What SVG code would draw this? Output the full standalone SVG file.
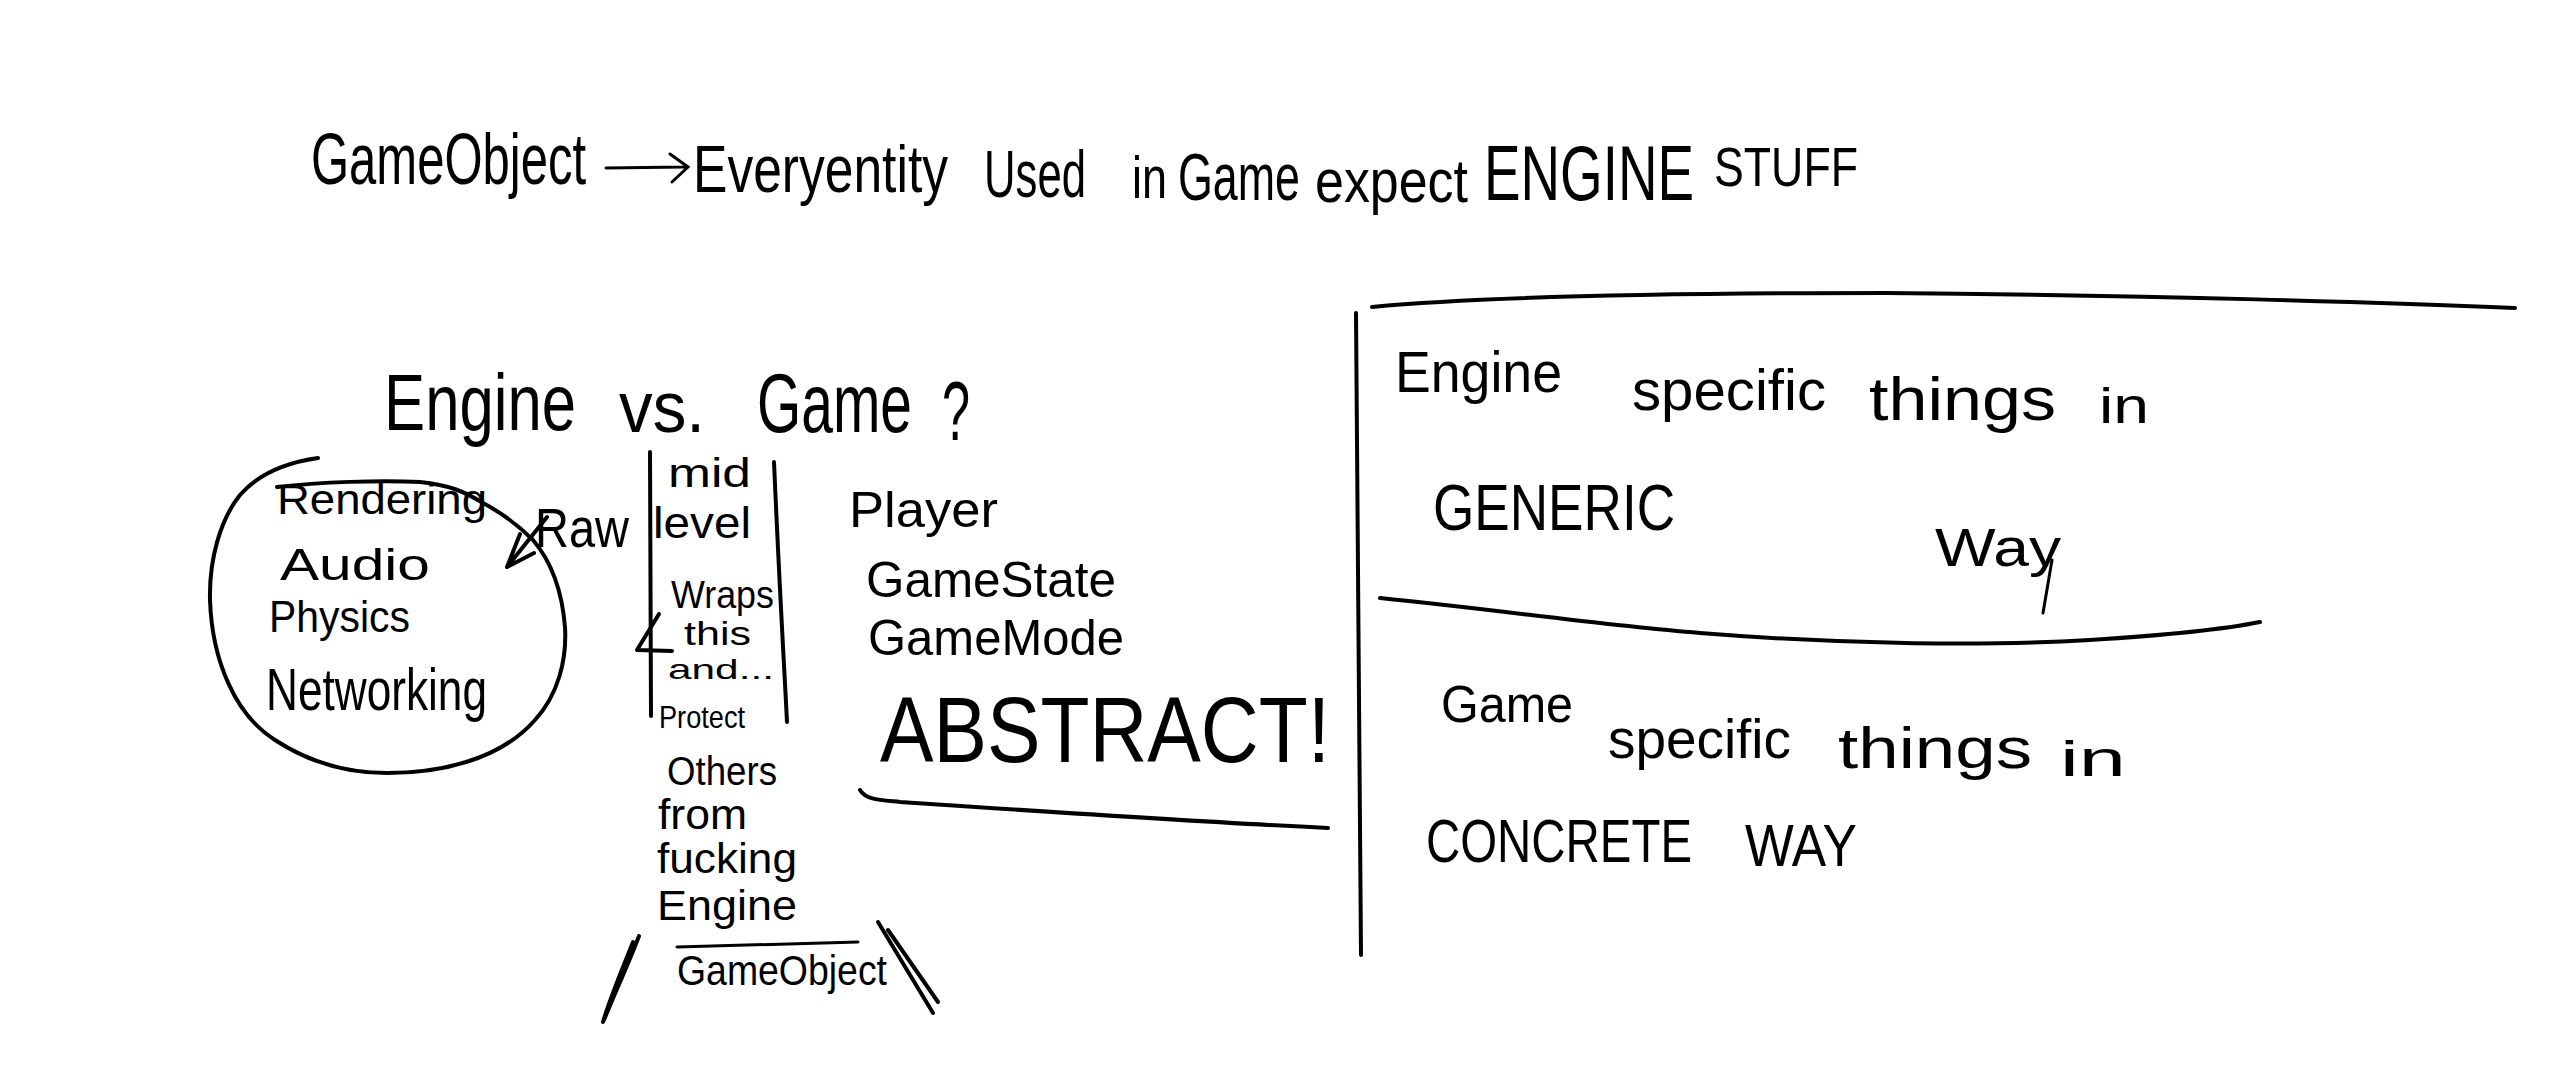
<svg xmlns="http://www.w3.org/2000/svg" width="2560" height="1080" viewBox="0 0 2560 1080">
<style>
text{font-family:"Liberation Sans","DejaVu Sans",sans-serif;fill:#000;}
.s{fill:none;stroke:#000;stroke-width:4;stroke-linecap:round;stroke-linejoin:round;}
.t{fill:none;stroke:#000;stroke-width:3;stroke-linecap:round;}
</style>
<rect width="2560" height="1080" fill="#fff"/>
<g id="title">
<text x="311" y="184" font-size="72" textLength="275" lengthAdjust="spacingAndGlyphs">GameObject</text>
<path class="t" d="M606,168 L684,167 M670,154 L688,167 L672,182"/>
<text x="693" y="192" font-size="66" textLength="255" lengthAdjust="spacingAndGlyphs">Everyentity</text>
<text x="984" y="197" font-size="66" textLength="102" lengthAdjust="spacingAndGlyphs">Used</text>
<text x="1132" y="198" font-size="60" textLength="35" lengthAdjust="spacingAndGlyphs">in</text>
<text x="1178" y="200" font-size="66" textLength="122" lengthAdjust="spacingAndGlyphs">Game</text>
<text x="1315" y="202" font-size="62" textLength="153" lengthAdjust="spacingAndGlyphs">expect</text>
<text x="1484" y="200" font-size="78" textLength="210" lengthAdjust="spacingAndGlyphs">ENGINE</text>
<text x="1714" y="186" font-size="56" textLength="144" lengthAdjust="spacingAndGlyphs">STUFF</text>
</g>
<g id="heading">
<text x="384" y="430" font-size="80" textLength="192" lengthAdjust="spacingAndGlyphs">Engine</text>
<text x="619" y="432" font-size="72" textLength="86" lengthAdjust="spacingAndGlyphs">vs.</text>
<text x="757" y="432" font-size="84" textLength="155" lengthAdjust="spacingAndGlyphs">Game</text>
<text x="942" y="440" font-size="84" textLength="28" lengthAdjust="spacingAndGlyphs">?</text>
</g>
<g id="engine-circle">
<path class="s" d="M318,458 C290,462 260,472 240,495 C220,520 209,560 210,600 C212,660 235,715 275,740 C310,763 350,773 387,773 C440,773 500,760 535,720 C558,695 567,660 565,627 C562,590 550,560 533,540 C515,522 500,512 483,503 C465,492 450,485 420,482 C380,480 320,482 277,487"/>
<text x="277" y="514" font-size="42" textLength="210" lengthAdjust="spacingAndGlyphs">Rendering</text>
<text x="280" y="580" font-size="44" textLength="150" lengthAdjust="spacingAndGlyphs">Audio</text>
<text x="269" y="632" font-size="44" textLength="141" lengthAdjust="spacingAndGlyphs">Physics</text>
<text x="266" y="710" font-size="60" textLength="221" lengthAdjust="spacingAndGlyphs">Networking</text>
</g>
<g id="raw">
<text x="535" y="547" font-size="56" textLength="94" lengthAdjust="spacingAndGlyphs">Raw</text>
</g>
<g id="mid-level">
<path class="s" d="M650,452 L651,716"/>
<path class="s" d="M774,462 C780,600 785,680 787,722"/>
<text x="668" y="487" font-size="40" textLength="83" lengthAdjust="spacingAndGlyphs">mid</text>
<text x="653" y="538" font-size="44" textLength="98" lengthAdjust="spacingAndGlyphs">level</text>
<text x="671" y="608" font-size="38" textLength="103" lengthAdjust="spacingAndGlyphs">Wraps</text>
<text x="684" y="645" font-size="34" textLength="67" lengthAdjust="spacingAndGlyphs">this</text>
<text x="668" y="679" font-size="28" textLength="106" lengthAdjust="spacingAndGlyphs">and...</text>
<text x="659" y="728" font-size="32" textLength="86" lengthAdjust="spacingAndGlyphs">Protect</text>
<text x="667" y="785" font-size="40" textLength="110" lengthAdjust="spacingAndGlyphs">Others</text>
<text x="658" y="829" font-size="42" textLength="89" lengthAdjust="spacingAndGlyphs">from</text>
<text x="657" y="873" font-size="42" textLength="140" lengthAdjust="spacingAndGlyphs">fucking</text>
<text x="657" y="920" font-size="42" textLength="140" lengthAdjust="spacingAndGlyphs">Engine</text>
<path class="t" d="M677,947 L858,942"/>
<text x="677" y="985" font-size="42" textLength="210" lengthAdjust="spacingAndGlyphs">GameObject</text>
<path class="s" d="M639,936 C628,965 614,995 604,1020 M633,942 C622,970 610,998 603,1022"/>
<path class="s" d="M878,922 L933,1013 M888,930 L938,1002"/>
</g>
<g id="game-side">
<text x="849" y="527" font-size="50" textLength="149" lengthAdjust="spacingAndGlyphs">Player</text>
<text x="866" y="597" font-size="50" textLength="250" lengthAdjust="spacingAndGlyphs">GameState</text>
<text x="868" y="655" font-size="50" textLength="256" lengthAdjust="spacingAndGlyphs">GameMode</text>
<text x="880" y="762" font-size="92" textLength="450" lengthAdjust="spacingAndGlyphs">ABSTRACT!</text>
<path class="s" d="M860,790 C866,800 880,800 900,802 C1050,812 1200,822 1328,828"/>
</g>
<g id="right-box">
<path class="s" d="M1372,307 C1500,295 1700,293 1885,293 C2150,295 2400,303 2515,308"/>
<path class="s" d="M1356,313 L1361,955"/>
<path class="s" d="M1380,598 C1500,610 1600,625 1700,633 C1850,645 1990,646 2090,640 C2170,635 2230,628 2260,622"/>
<text x="1395" y="392" font-size="58" textLength="167" lengthAdjust="spacingAndGlyphs">Engine</text>
<text x="1632" y="410" font-size="58" textLength="194" lengthAdjust="spacingAndGlyphs">specific</text>
<text x="1869" y="420" font-size="62" textLength="187" lengthAdjust="spacingAndGlyphs">things</text>
<text x="2099" y="423" font-size="50" textLength="50" lengthAdjust="spacingAndGlyphs">in</text>
<text x="1433" y="530" font-size="64" textLength="242" lengthAdjust="spacingAndGlyphs">GENERIC</text>
<text x="1935" y="566" font-size="54" textLength="126" lengthAdjust="spacingAndGlyphs">Way</text>
<path class="t" d="M2052,560 L2043,613"/>
<text x="1441" y="722" font-size="52" textLength="132" lengthAdjust="spacingAndGlyphs">Game</text>
<text x="1608" y="758" font-size="56" textLength="183" lengthAdjust="spacingAndGlyphs">specific</text>
<text x="1838" y="768" font-size="58" textLength="194" lengthAdjust="spacingAndGlyphs">things</text>
<text x="2060" y="776" font-size="50" textLength="66" lengthAdjust="spacingAndGlyphs">in</text>
<text x="1426" y="862" font-size="62" textLength="266" lengthAdjust="spacingAndGlyphs">CONCRETE</text>
<text x="1745" y="866" font-size="60" textLength="112" lengthAdjust="spacingAndGlyphs">WAY</text>
</g>
<g id="connectors">
<path class="s" d="M547,517 L507,567 M507,567 L520,534 M507,567 L534,553"/>
<path class="s" d="M659,614 L637,650 L672,651"/>
</g>
</svg>
